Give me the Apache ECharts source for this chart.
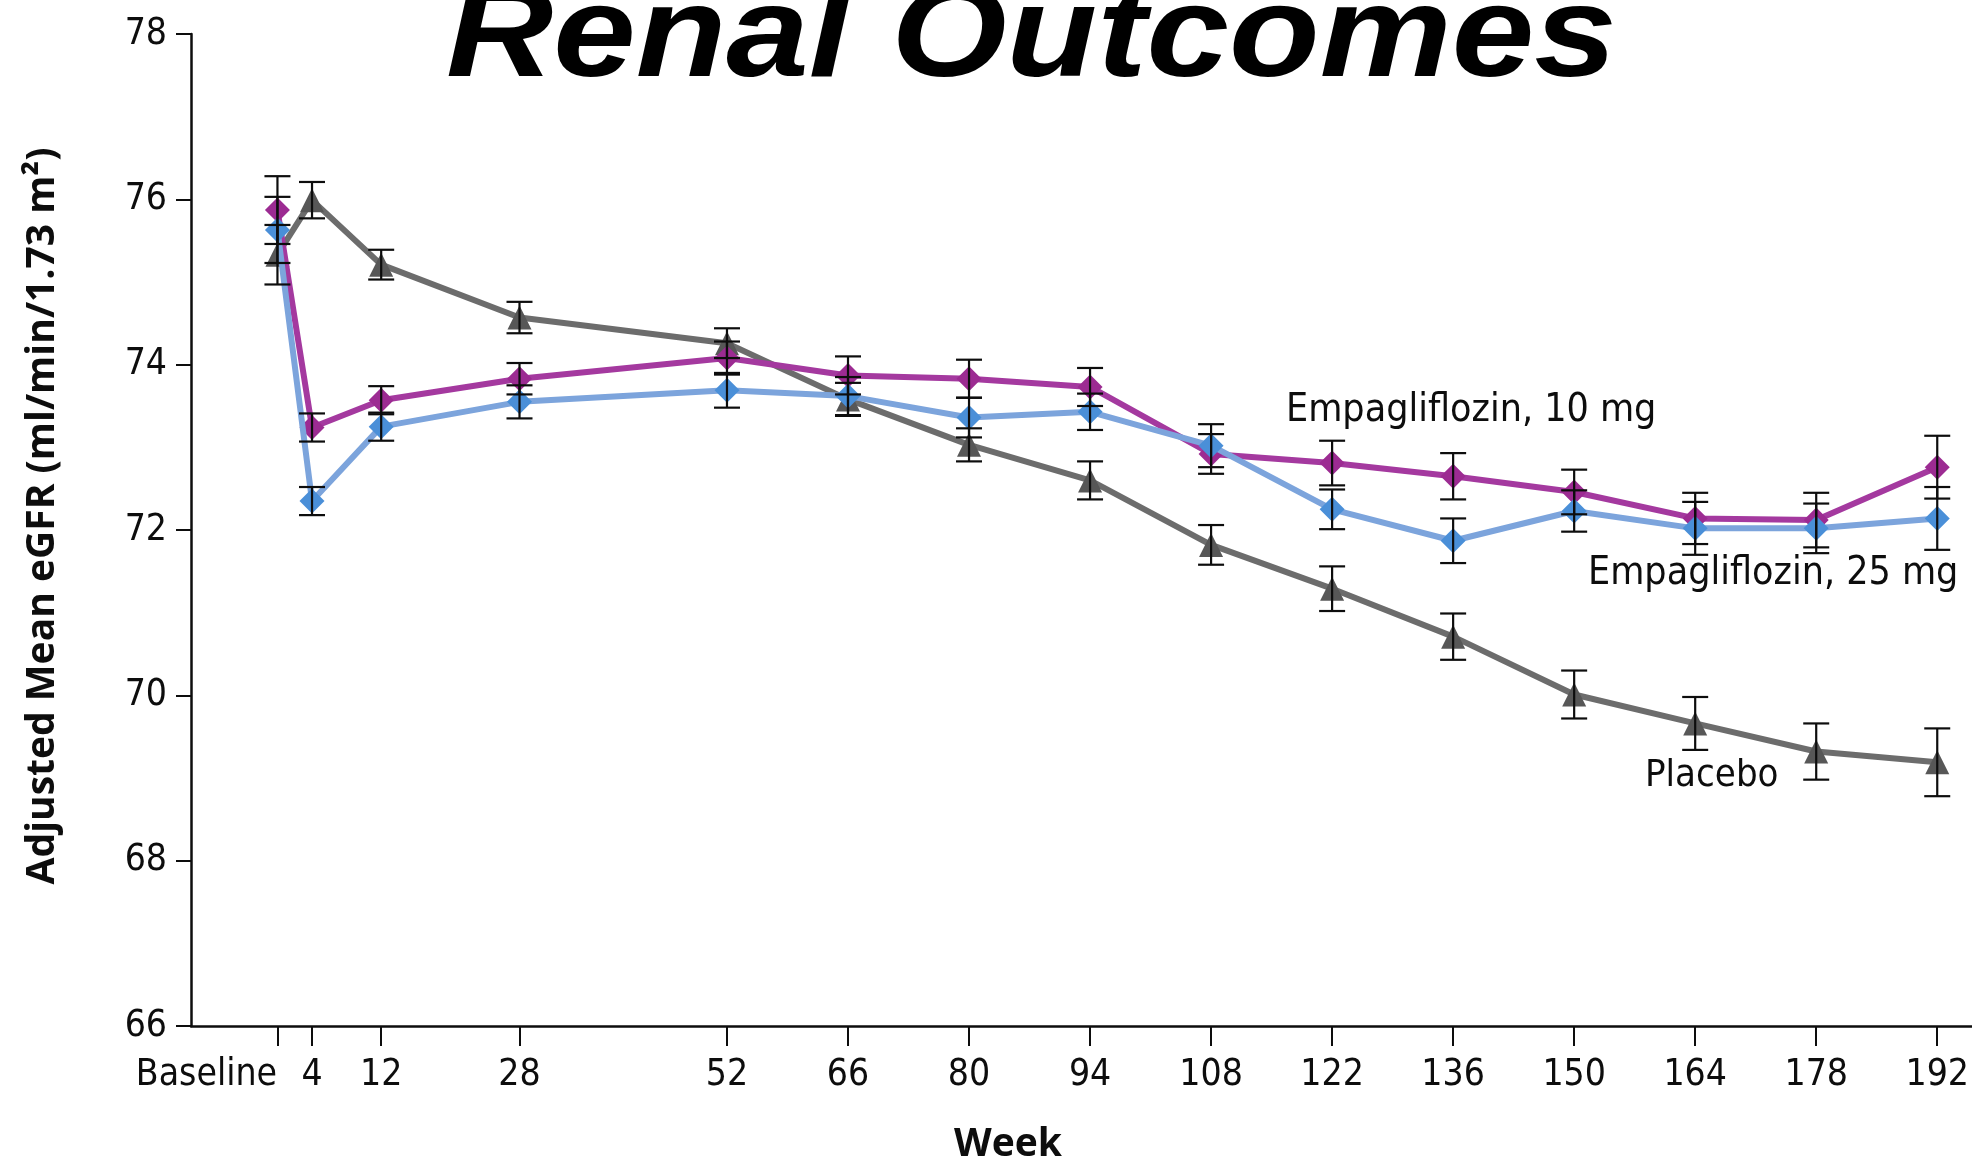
<!DOCTYPE html>
<html>
<head>
<meta charset="utf-8">
<title>Renal Outcomes</title>
<script src="https://cdn.jsdelivr.net/npm/echarts@6/dist/echarts.min.js"></script>
<style>
  html, body { margin: 0; padding: 0; background: #ffffff; }
  #chart { width: 1972px; height: 1168px; }
</style>
</head>
<body>
<div id="chart"></div>
<script>
// Study visits (weeks from randomisation; 0 = baseline)
const weeks = [0, 4, 12, 28, 52, 66, 80, 94, 108, 122, 136, 150, 164, 178, 192];
const weekLabels = ['Baseline', '4', '12', '28', '52', '66', '80', '94', '108', '122', '136', '150', '164', '178', '192'];

// Adjusted mean eGFR (ml/min/1.73 m²) and standard errors per arm
const empa10 = [75.87, 73.24, 73.57, 73.83, 74.08, 73.87, 73.83, 73.73, 72.92, 72.81, 72.65, 72.46, 72.14, 72.12, 72.76];
const empa10Se = [0.41, 0.17, 0.17, 0.19, 0.20, 0.23, 0.23, 0.23, 0.24, 0.27, 0.28, 0.27, 0.31, 0.33, 0.38];

const empa25 = [75.63, 72.35, 73.25, 73.55, 73.69, 73.62, 73.36, 73.43, 73.02, 72.25, 71.87, 72.23, 72.02, 72.02, 72.14];
const empa25Se = [0.40, 0.17, 0.17, 0.20, 0.21, 0.23, 0.24, 0.22, 0.26, 0.24, 0.27, 0.25, 0.32, 0.30, 0.38];

const placebo = [75.33, 75.99, 75.21, 74.57, 74.26, 73.58, 73.03, 72.60, 71.82, 71.29, 70.71, 70.01, 69.66, 69.32, 69.19];
const placeboSe = [0.36, 0.22, 0.18, 0.19, 0.18, 0.20, 0.20, 0.23, 0.24, 0.27, 0.28, 0.29, 0.32, 0.34, 0.41];

const yTicks = { min: 66, max: 78, step: 2 };

const tickFont = '"DejaVu Sans Condensed", "Liberation Sans Narrow", "DejaVu Sans", sans-serif';
const boldFont = '"Open Sans", "Noto Sans", sans-serif';
const ink = '#0d0d0d';

const chart = echarts.init(document.getElementById('chart'), null, { renderer: 'canvas' });

// width of the "Baseline" label, so it can sit flush left of its tick
const meas = document.createElement('canvas').getContext('2d');
meas.font = '37px ' + tickFont;
const baselineW = Math.ceil(meas.measureText(weekLabels[0]).width);

function pairs(vals) {
  return weeks.map((w, i) => [w, vals[i]]);
}
function bars(vals, se) {
  return weeks.map((w, i) => [w, +(vals[i] - se[i]).toFixed(2), +(vals[i] + se[i]).toFixed(2)]);
}

function renderErrorBar(params, api) {
  const x = api.value(0);
  const lo = api.coord([x, api.value(1)]);
  const hi = api.coord([x, api.value(2)]);
  const half = 13;
  const st = { stroke: ink, lineWidth: 2.2 };
  return {
    type: 'group',
    children: [
      { type: 'line', shape: { x1: hi[0], y1: hi[1], x2: lo[0], y2: lo[1] }, style: st },
      { type: 'line', shape: { x1: hi[0] - half, y1: hi[1], x2: hi[0] + half, y2: hi[1] }, style: st },
      { type: 'line', shape: { x1: lo[0] - half, y1: lo[1], x2: lo[0] + half, y2: lo[1] }, style: st }
    ]
  };
}

function lineSeries(name, vals, lineColor, markColor, symbol, z) {
  return {
    name: name,
    type: 'line',
    data: pairs(vals),
    symbol: symbol,
    symbolSize: symbol === 'triangle' ? 24 : 25,
    z: z,
    lineStyle: { color: lineColor, width: 6 },
    itemStyle: { color: markColor },
    emphasis: { disabled: true }
  };
}

function errorSeries(name, vals, se, z) {
  return {
    name: name,
    type: 'custom',
    data: bars(vals, se),
    encode: { x: 0, y: [1, 2] },
    renderItem: renderErrorBar,
    z: z,
    silent: true
  };
}

const option = {
  animation: false,
  backgroundColor: '#ffffff',
  grid: { left: 191, right: 0, top: 34, bottom: 142, containLabel: false },
  xAxis: {
    type: 'value',
    min: -10,
    max: 196,
    axisLine: { show: true, onZero: false, lineStyle: { color: ink, width: 2.5 } },
    axisTick: { show: true, customValues: weeks, length: 20, lineStyle: { color: ink, width: 2 } },
    axisLabel: {
      customValues: weeks,
      margin: 31,
      color: ink,
      fontSize: 37,
      fontFamily: tickFont,
      formatter: function (v) {
        const i = weeks.indexOf(v);
        return i === 0 ? '{base|' + weekLabels[0] + '}' : weekLabels[i];
      },
      rich: {
        base: { fontSize: 37, fontFamily: tickFont, color: ink, padding: [0, baselineW, 0, 0] }
      }
    },
    splitLine: { show: false }
  },
  yAxis: {
    type: 'value',
    min: yTicks.min,
    max: yTicks.max,
    interval: yTicks.step,
    axisLine: { show: true, onZero: false, lineStyle: { color: ink, width: 2.5 } },
    axisTick: { show: true, length: 15, lineStyle: { color: ink, width: 2 } },
    axisLabel: { margin: 24, color: ink, fontSize: 37, fontFamily: tickFont },
    splitLine: { show: false }
  },
  graphic: [
    {
      type: 'text', x: 446, y: 40, scaleX: 1.15, z: 10,
      style: {
        text: 'Renal Outcomes', fill: '#000',
        font: 'italic bold 129px "Liberation Sans", Arial, sans-serif',
        textAlign: 'left', textVerticalAlign: 'middle'
      }
    },
    {
      type: 'text', x: 43, y: 516, rotation: Math.PI / 2, z: 10,
      style: {
        text: 'Adjusted Mean eGFR (ml/min/1.73 m²)', fill: ink,
        font: 'bold 39px ' + boldFont,
        textAlign: 'center', textVerticalAlign: 'middle'
      }
    },
    {
      type: 'text', x: 1008, y: 1145, z: 10,
      style: {
        text: 'Week', fill: ink, font: 'bold 39px ' + boldFont,
        textAlign: 'center', textVerticalAlign: 'middle'
      }
    },
    {
      type: 'text', x: 1286, y: 411, z: 10,
      style: {
        text: 'Empagliflozin, 10 mg', fill: ink, font: '39px ' + tickFont,
        textAlign: 'left', textVerticalAlign: 'middle'
      }
    },
    {
      type: 'text', x: 1588, y: 574, z: 10,
      style: {
        text: 'Empagliflozin, 25 mg', fill: ink, font: '39px ' + tickFont,
        textAlign: 'left', textVerticalAlign: 'middle'
      }
    },
    {
      type: 'text', x: 1645, y: 776, z: 10,
      style: {
        text: 'Placebo', fill: ink, font: '38px ' + tickFont,
        textAlign: 'left', textVerticalAlign: 'middle'
      }
    }
  ],
  series: [
    lineSeries('Placebo', placebo, '#6c6c6c', '#575757', 'triangle', 2),
    lineSeries('Empagliflozin, 10 mg', empa10, '#a4399f', '#9c2b92', 'diamond', 3),
    lineSeries('Empagliflozin, 25 mg', empa25, '#7ca4dc', '#4a8fd8', 'diamond', 4),
    errorSeries('Placebo SE', placebo, placeboSe, 6),
    errorSeries('Empagliflozin, 10 mg SE', empa10, empa10Se, 6),
    errorSeries('Empagliflozin, 25 mg SE', empa25, empa25Se, 6)
  ]
};

chart.setOption(option);
</script>
</body>
</html>
